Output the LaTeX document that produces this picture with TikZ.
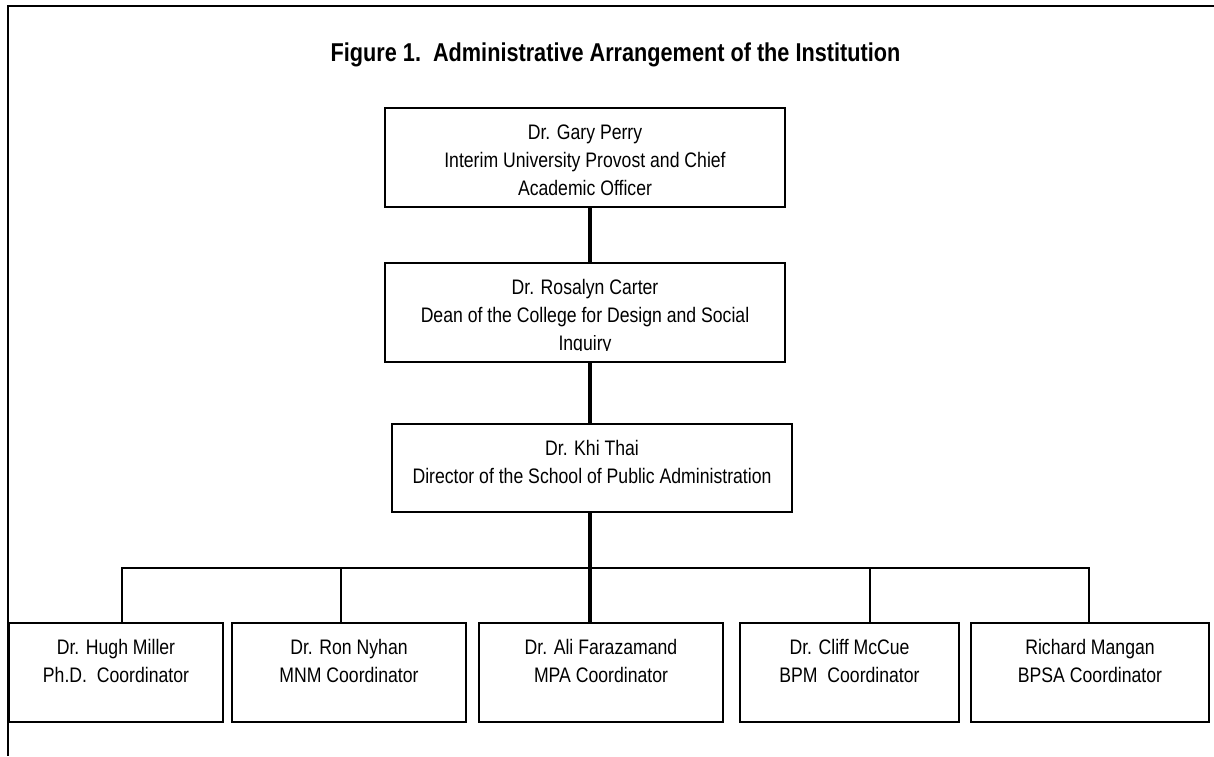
\documentclass[tikz,border=0pt]{standalone}
\usepackage{fontspec}
\setmainfont{Liberation Sans}[FakeStretch=0.84]
\usepackage{trimclip}
\newcommand{\boxtext}[3]{\parbox[t][#2pt][t]{#1pt}{\centering\rule{0pt}{31.5pt}#3}}

\begin{document}
\begin{tikzpicture}[x=1pt,y=-1pt,
  orgbox/.style={draw, line width=2pt, inner sep=0pt, outer sep=0pt, anchor=north west, font=\fontsize{21}{28}\selectfont},
  trunk/.style={line width=4pt},
  branch/.style={line width=1.8pt}]
\useasboundingbox (0,0) rectangle (1214,756);

% Frame
\draw[line width=2pt] (1214,6) -- (8,6) -- (8,756);

% Title
\node[anchor=base, font=\fontsize{25.8}{30}\selectfont\bfseries] (title) at (615.5,61) {Figure 1.\ \ Administrative Arrangement of the Institution};

% Top of the chart
\node[orgbox] (gary) at (385,108) {\boxtext{400}{99}{Dr. Gary Perry\\Interim University Provost and Chief\\Academic Officer}};
\node[orgbox] (rosalyn) at (385,263) {\boxtext{400}{99}{Dr. Rosalyn Carter\\Dean of the College for Design and Social\\\clipbox{0pt 4.5pt 0pt 0pt}{Inquiry}}};
\node[orgbox] (khi) at (392,424) {\boxtext{400}{88}{Dr. Khi Thai\\Director of the School of Public Administration}};

% Coordinators
\node[orgbox] (hugh) at (9,623) {\boxtext{214}{99}{Dr. Hugh Miller\\Ph.D.\ \ Coordinator}};
\node[orgbox] (ron) at (232,623) {\boxtext{234}{99}{Dr. Ron Nyhan\\MNM Coordinator}};
\node[orgbox] (ali) at (479,623) {\boxtext{244}{99}{Dr. Ali Farazamand\\MPA Coordinator}};
\node[orgbox] (cliff) at (740,623) {\boxtext{219}{99}{Dr. Cliff McCue\\BPM\ \ Coordinator}};
\node[orgbox] (richard) at (971,623) {\boxtext{238}{99}{Richard Mangan\\BPSA Coordinator}};

% Connectors
\coordinate (spine) at (590,0);
\coordinate (split) at (590,568);
\draw[trunk] (gary.south -| spine) -- (rosalyn.north -| spine);
\draw[trunk] (rosalyn.south -| spine) -- (khi.north -| spine);
\draw[trunk] (khi.south -| spine) -- (ali.north -| spine);
\foreach \n/\dx in {hugh/6, ron/-8, cliff/20.5, richard/-1}
  \draw[branch] (split) -| ([xshift=\dx pt]\n.north);
\end{tikzpicture}
\end{document}
